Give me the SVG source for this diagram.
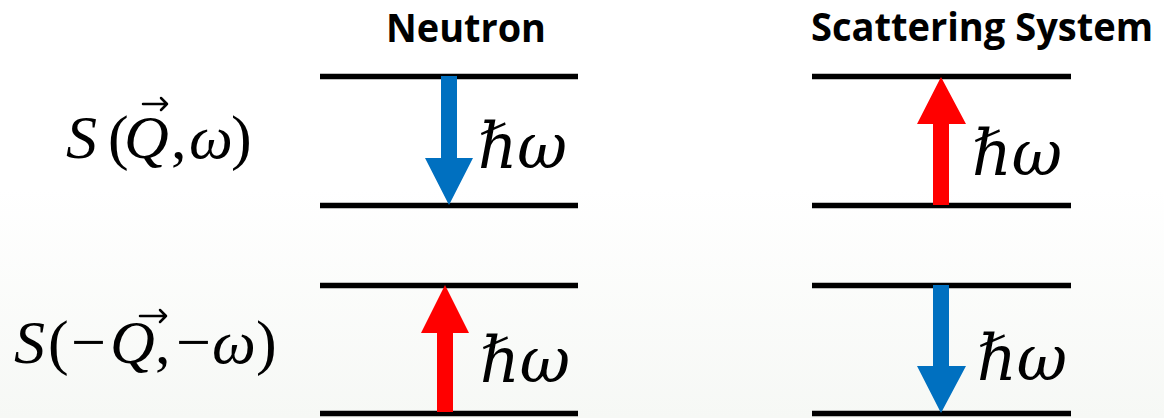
<svg xmlns="http://www.w3.org/2000/svg" width="1164" height="418" viewBox="0 0 1164 418">
<defs>
<linearGradient id="bg" x1="0" y1="0" x2="0" y2="1">
<stop offset="0" stop-color="#ffffff"/>
<stop offset="0.45" stop-color="#ffffff"/>
<stop offset="1" stop-color="#f6f8f5"/>
</linearGradient>
</defs>
<rect x="0" y="0" width="1164" height="418" fill="url(#bg)"/>

<g id="math-labels" font-family="Liberation Serif, serif" font-size="62" fill="#000">
<g id="label-S-top">
<text y="158"><tspan font-style="italic" x="66">S</tspan><tspan x="108">(</tspan><tspan font-style="italic" x="124">Q</tspan><tspan x="171">,</tspan><tspan font-style="italic" x="189">ω</tspan><tspan x="231">)</tspan></text>
<path d="M143,104 H167 M161,98 L167,104 L161,110" fill="none" stroke="#000" stroke-width="2.5" stroke-linecap="round" stroke-linejoin="round"/>
</g>
<g id="label-S-bottom">
<text y="363"><tspan font-style="italic" x="14">S</tspan><tspan x="48">(</tspan><tspan x="71">−</tspan><tspan font-style="italic" x="110">Q</tspan><tspan x="155">,</tspan><tspan x="176">−</tspan><tspan font-style="italic" x="212">ω</tspan><tspan x="256">)</tspan></text>
<path d="M140,316 H166 M160,310 L166,316 L160,322" fill="none" stroke="#000" stroke-width="2.5" stroke-linecap="round" stroke-linejoin="round"/>
</g>
</g>

<g id="titles" font-family="Open Sans, Liberation Sans, sans-serif" font-weight="bold" font-size="40" fill="#000">
<g id="title-neutron"><text x="386" y="42" textLength="160" lengthAdjust="spacingAndGlyphs">Neutron</text></g>
<g id="title-system"><text x="811" y="41" textLength="342" lengthAdjust="spacingAndGlyphs">Scattering System</text></g>
</g>

<g id="levels" stroke="#000" stroke-width="5.5" fill="none">
<line x1="320" y1="76.5" x2="578" y2="76.5"/>
<line x1="320" y1="205.5" x2="578" y2="205.5"/>
<line x1="812" y1="76.5" x2="1071" y2="76.5"/>
<line x1="812" y1="205.5" x2="1071" y2="205.5"/>
<line x1="320" y1="285.5" x2="578" y2="285.5"/>
<line x1="320" y1="413.5" x2="578" y2="413.5"/>
<line x1="812" y1="285.5" x2="1071" y2="285.5"/>
<line x1="812" y1="413.5" x2="1071" y2="413.5"/>
</g>

<g id="connectors">
<polygon fill="#0070C0" points="441,76 457,76 457,158 473,158 449,205 425,158 441,158"/>
<polygon fill="#FF0000" points="933,205 949,205 949,124 966,124 941,77 917,124 933,124"/>
<polygon fill="#FF0000" points="437,412 453,412 453,333 469,333 445,285 421,333 437,333"/>
<polygon fill="#0070C0" points="933,285 949,285 949,366 966,366 941,413 917,366 933,366"/>
</g>

<g id="energy-labels" font-family="DejaVu Serif, serif" font-style="italic" font-size="64" fill="#000">
<text x="478" y="168" textLength="89" lengthAdjust="spacingAndGlyphs">ℏω</text>
<text x="972" y="175" textLength="90" lengthAdjust="spacingAndGlyphs">ℏω</text>
<text x="480" y="382" textLength="90" lengthAdjust="spacingAndGlyphs">ℏω</text>
<text x="977" y="380" textLength="90" lengthAdjust="spacingAndGlyphs">ℏω</text>
</g>
</svg>
